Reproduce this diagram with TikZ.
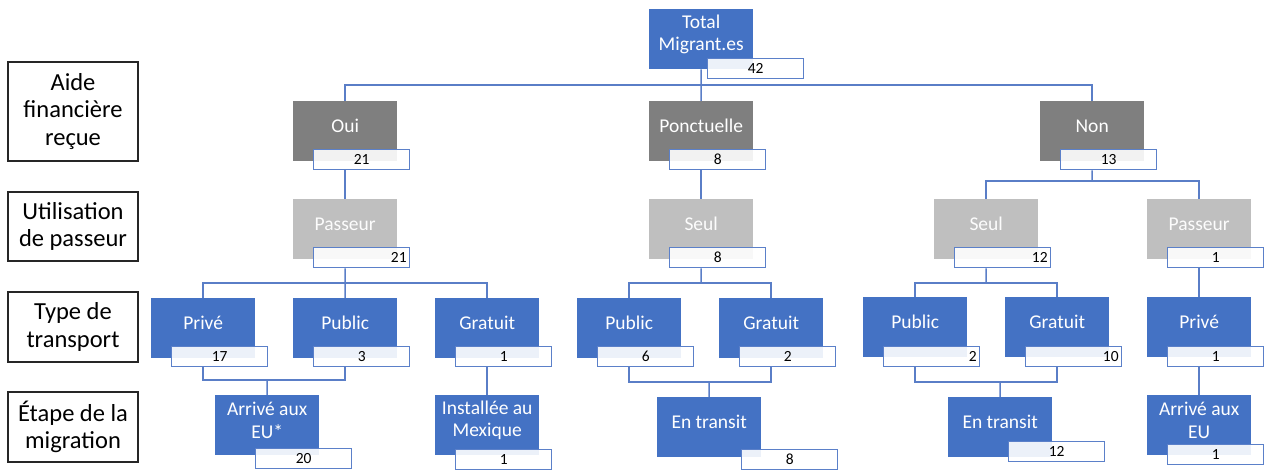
\documentclass[tikz,border=0pt]{standalone}
\usepackage{fontspec}
\setmainfont{Carlito}
\definecolor{dkgray}{HTML}{7F7F7F}
\definecolor{ltgray}{HTML}{BFBFBF}
\definecolor{mblue}{HTML}{4472C4}
\definecolor{nblue}{HTML}{5B80C9}
\definecolor{lblue}{HTML}{5A7EC7}
\tikzset{
  mainbox/.style={minimum width=104pt, minimum height=60pt, inner sep=0pt, anchor=north west},
  dkbox/.style={mainbox, fill=dkgray},
  ltbox/.style={mainbox, fill=ltgray},
  bluebox/.style={mainbox, fill=mblue},
  boxtext/.style={text=white, font=\fontsize{19.5}{22.5}\selectfont, align=center, inner sep=0pt},
  boxtextlt/.style={boxtext, text=white!95!ltgray},
  numbox/.style={draw=nblue, line width=1.4pt, fill=white, fill opacity=0.9, text opacity=1,
    minimum width=96pt, minimum height=20pt, inner sep=0pt, anchor=north west,
    font=\fontsize{15.5}{16}\selectfont},
  numc/.style={numbox, text width=96pt, align=center},
  numr/.style={numbox, text width=90pt, inner xsep=3pt, align=right},
  lbl/.style={draw=black!85, line width=1.3pt, minimum width=130pt, inner sep=0pt,
    align=center, font=\fontsize{24.5}{27.5}\selectfont},
  conn/.style={draw=lblue, line width=1.5pt}
}
% name, box style, text style, left, top, text
\newcommand\mkbox[6]{%
  \node[#2] (#1) at (#4,#5) {};
  \node[#3] (#1-t) at ([yshift=5pt]#1.center) {#6};
}
\begin{document}
\begin{tikzpicture}[x=1pt,y=-1pt]
\useasboundingbox (0,0) rectangle (1270,469);
\clip (0,0) rectangle (1270,469);

% row labels
\node[lbl, minimum height=99pt] (lab1) at (73,111.5) {Aide\\financière\\reçue};
\node[lbl, minimum height=69pt] (lab2) at (73,226.5) {Utilisation\\de passeur};
\node[lbl, minimum height=70pt] (lab3) at (73,327) {Type de\\transport};
\node[lbl, minimum height=70pt] (lab4) at (73,427) {Étape de la\\migration};

% level 0
\mkbox{tot}{bluebox}{boxtext}{649}{9}{Total\\Migrant.es}
% level 1
\mkbox{oui}{dkbox}{boxtext}{293}{101}{Oui}
\mkbox{ponc}{dkbox}{boxtext}{649}{101}{Ponctuelle}
\mkbox{non}{dkbox}{boxtext}{1040}{101}{Non}
% level 2
\mkbox{pas1}{ltbox}{boxtextlt}{293}{199}{Passeur}
\mkbox{seul1}{ltbox}{boxtextlt}{649}{199}{Seul}
\mkbox{seul2}{ltbox}{boxtextlt}{934}{199}{Seul}
\mkbox{pas2}{ltbox}{boxtextlt}{1147}{199}{Passeur}
% level 3
\mkbox{priv1}{bluebox}{boxtext}{151}{298}{Privé}
\mkbox{pub1}{bluebox}{boxtext}{293}{298}{Public}
\mkbox{grat1}{bluebox}{boxtext}{435}{298}{Gratuit}
\mkbox{pub2}{bluebox}{boxtext}{577}{298}{Public}
\mkbox{grat2}{bluebox}{boxtext}{719}{298}{Gratuit}
\mkbox{pub3}{bluebox}{boxtext}{863}{297}{Public}
\mkbox{grat3}{bluebox}{boxtext}{1005}{297}{Gratuit}
\mkbox{priv2}{bluebox}{boxtext}{1147}{297}{Privé}
% level 4
\mkbox{arr1}{bluebox}{boxtext}{215}{395}{Arrivé aux\\EU*}
\mkbox{inst}{bluebox}{boxtext}{435}{395}{Installée au\\Mexique}
\mkbox{tr1}{bluebox}{boxtext}{657}{397}{En transit}
\mkbox{tr2}{bluebox}{boxtext}{948}{397}{En transit}
\mkbox{arr2}{bluebox}{boxtext}{1147}{395}{Arrivé aux\\EU}

% number boxes
\node[numc] (tot-n) at (707,58) {42};
\node[numc] (oui-n) at (313,149) {21};
\node[numc] (ponc-n) at (669,149) {8};
\node[numc] (non-n) at (1060,149) {13};
\node[numr] (pas1-n) at (313,247) {21};
\node[numc] (seul1-n) at (669,247) {8};
\node[numr] (seul2-n) at (954,247) {12};
\node[numc] (pas2-n) at (1167,247) {1};
\node[numc] (priv1-n) at (171,346) {17};
\node[numc] (pub1-n) at (313,346) {3};
\node[numc] (grat1-n) at (455,346) {1};
\node[numc] (pub2-n) at (597,346) {6};
\node[numc] (grat2-n) at (739,346) {2};
\node[numr] (pub3-n) at (883,346) {2};
\node[numr] (grat3-n) at (1025,346) {10};
\node[numc] (priv2-n) at (1167,346) {1};
\node[numc] (arr1-n) at (255,448) {20};
\node[numc] (inst-n) at (455,449) {1};
\node[numc] (tr1-n) at (741,449) {8};
\node[numc] (tr2-n) at (1008,441) {12};
\node[numc] (arr2-n) at (1167,444) {1};

% junctions
\coordinate (b0) at (701,85);
\coordinate (b1) at (1092,181);
\coordinate (b2) at (345,283);
\coordinate (b3) at (701,283);
\coordinate (b4) at (986,283);
\coordinate (m1) at (267,380);
\coordinate (m2) at (709,382);
\coordinate (m3) at (1000,382);

% connectors
\draw[conn] (tot.south) -- (b0);
\draw[conn] (b0) -| (oui.north);
\draw[conn] (b0) -| (non.north);
\draw[conn] (b0) -- (ponc.north);

\draw[conn] (oui |- oui-n.south) -- (pas1.north);
\draw[conn] (ponc |- ponc-n.south) -- (seul1.north);
\draw[conn] (non |- non-n.south) -- (b1);
\draw[conn] (b1) -| (seul2.north);
\draw[conn] (b1) -| (pas2.north);

\draw[conn] (pas1 |- pas1-n.south) -- (b2);
\draw[conn] (b2) -| (priv1.north);
\draw[conn] (b2) -| (grat1.north);
\draw[conn] (b2) -- (pub1.north);

\draw[conn] (seul1 |- seul1-n.south) -- (b3);
\draw[conn] (b3) -| (pub2.north);
\draw[conn] (b3) -| (grat2.north);

\draw[conn] (seul2 |- seul2-n.south) -- (b4);
\draw[conn] (b4) -| (pub3.north);
\draw[conn] (b4) -| (grat3.north);

\draw[conn] (pas2 |- pas2-n.south) -- (priv2.north);

\draw[conn] (priv1 |- priv1-n.south) |- (m1);
\draw[conn] (pub1 |- pub1-n.south) |- (m1);
\draw[conn] (m1) -- (arr1.north);
\draw[conn] (grat1 |- grat1-n.south) -- (inst.north);

\draw[conn] (pub2 |- pub2-n.south) |- (m2);
\draw[conn] (grat2 |- grat2-n.south) |- (m2);
\draw[conn] (m2) -- (tr1.north);

\draw[conn] (pub3 |- pub3-n.south) |- (m3);
\draw[conn] (grat3 |- grat3-n.south) |- (m3);
\draw[conn] (m3) -- (tr2.north);

\draw[conn] (priv2 |- priv2-n.south) -- (arr2.north);
\end{tikzpicture}
\end{document}
